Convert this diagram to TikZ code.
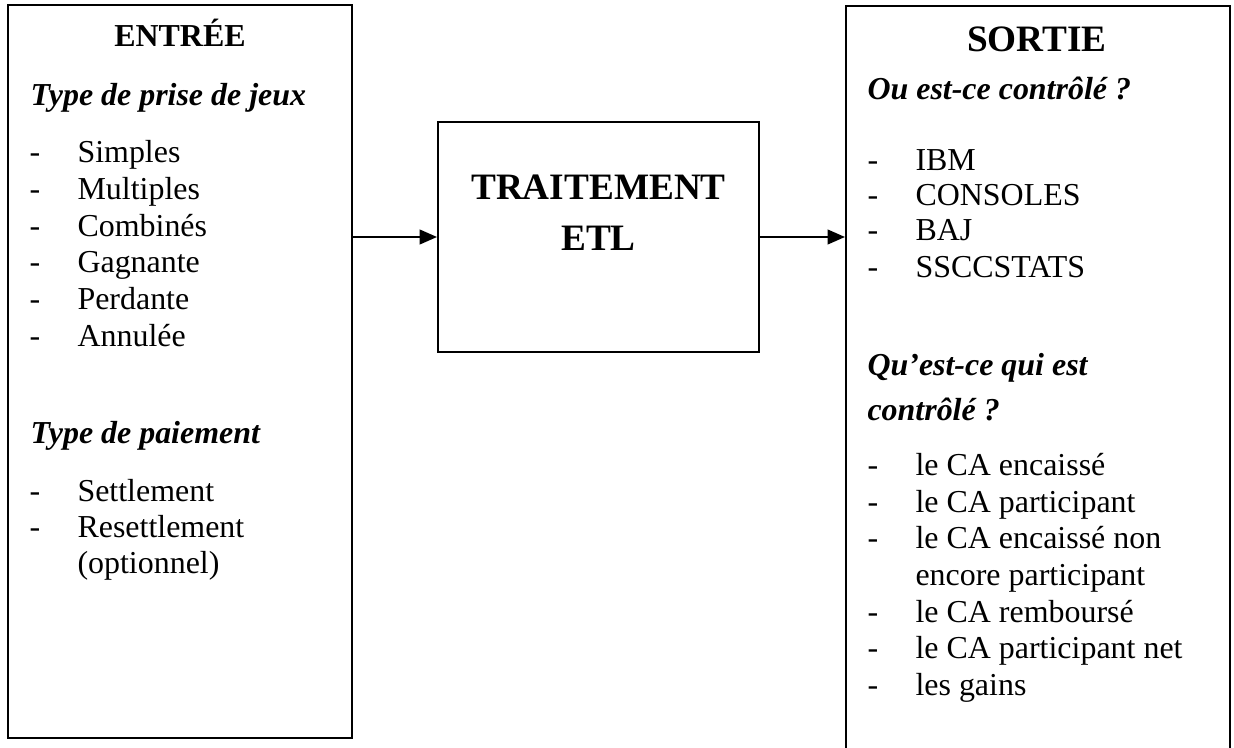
\documentclass[tikz,border=0pt]{standalone}
\usepackage{fontspec}
\setmainfont{Liberation Serif}
\usetikzlibrary{arrows.meta}
\begin{document}
\begin{tikzpicture}[x=0.3757pt,y=-0.3757pt]
	\tikzstyle{Box} = [rectangle, draw, line width=0.75pt, inner sep=0pt]
	\tikzstyle{Item} = [anchor=base west, inner sep=0pt, font=\fontsize{12}{14}\selectfont]
	\tikzstyle{Head} = [anchor=base west, inner sep=0pt, font=\fontsize{12}{14}\selectfont\bfseries\itshape]
	\tikzstyle{Title} = [anchor=base, inner sep=0pt, font=\fontsize{14}{16}\selectfont\bfseries]
	\tikzstyle{Arrow} = [line width=0.75pt, -{Triangle[length=6.5pt,width=5.5pt]}]
	\useasboundingbox (0,0) rectangle (1234,747);
	% boxes
	\node (entree) at (180,371.5) [Box, minimum width=129.2pt, minimum height=275.4pt] {};
	\node (traitement) at (598.5,237) [Box, minimum width=120.6pt, minimum height=86.4pt] {};
	\node (sortie) at (1038,388) [Box, minimum width=144.3pt, minimum height=287pt] {};
	% entree
	\node (e0) at (180,47) [Title, font=\fontsize{12}{14}\selectfont\bfseries] {ENTRÉE};
	\node (e1) at (30,106) [Head] {Type de prise de jeux};
	\node (d1) at (29,163) [Item] {-};
	\node (e2) at (77,163) [Item] {Simples};
	\node (d2) at (29,199) [Item] {-};
	\node (e3) at (77,199) [Item] {Multiples};
	\node (d3) at (29,236) [Item] {-};
	\node (e4) at (77,236) [Item] {Combinés};
	\node (d4) at (29,272) [Item] {-};
	\node (e5) at (77,272) [Item] {Gagnante};
	\node (d5) at (29,309) [Item] {-};
	\node (e6) at (77,309) [Item] {Perdante};
	\node (d6) at (29,346) [Item] {-};
	\node (e7) at (77,346) [Item] {Annulée};
	\node (e8) at (30,443) [Head] {Type de paiement};
	\node (d7) at (29,501) [Item] {-};
	\node (e9) at (77,501) [Item] {Settlement};
	\node (d8) at (29,537) [Item] {-};
	\node (e10) at (77,537) [Item] {Resettlement};
	\node (e11) at (77,573) [Item] {(optionnel)};
	% traitement
	\node (t1) at (598.5,199) [Title] {TRAITEMENT};
	\node (t2) at (598.5,250) [Title] {ETL};
	% sortie
	\node (s0) at (1037,52) [Title] {SORTIE};
	\node (s1) at (867,100) [Head] {Ou est-ce contrôlé ?};
	\node (f1) at (867,170) [Item] {-};
	\node (s2) at (915,170) [Item] {IBM};
	\node (f2) at (867,205) [Item] {-};
	\node (s3) at (915,205) [Item] {CONSOLES};
	\node (f3) at (867,240) [Item] {-};
	\node (s4) at (915,240) [Item] {BAJ};
	\node (f4) at (867,277) [Item] {-};
	\node (s5) at (915,277) [Item] {SSCCSTATS};
	\node (s6) at (867,375) [Head] {Qu’est-ce qui est};
	\node (s7) at (867,420) [Head] {contrôlé ?};
	\node (f5) at (867,475) [Item] {-};
	\node (s8) at (915,475) [Item] {le CA encaissé};
	\node (f6) at (867,512) [Item] {-};
	\node (s9) at (915,512) [Item] {le CA participant};
	\node (f7) at (867,548) [Item] {-};
	\node (s10) at (915,548) [Item] {le CA encaissé non};
	\node (s11) at (915,585) [Item] {encore participant};
	\node (f8) at (867,622) [Item] {-};
	\node (s12) at (915,622) [Item] {le CA remboursé};
	\node (f9) at (867,658) [Item] {-};
	\node (s13) at (915,658) [Item] {le CA participant net};
	\node (f10) at (867,695) [Item] {-};
	\node (s14) at (915,695) [Item] {les gains};
	% fleches
	\draw[Arrow] (entree.east |- traitement) to (traitement.west);
	\draw[Arrow] (traitement.east) to (sortie.west |- traitement);
\end{tikzpicture}
\end{document}
